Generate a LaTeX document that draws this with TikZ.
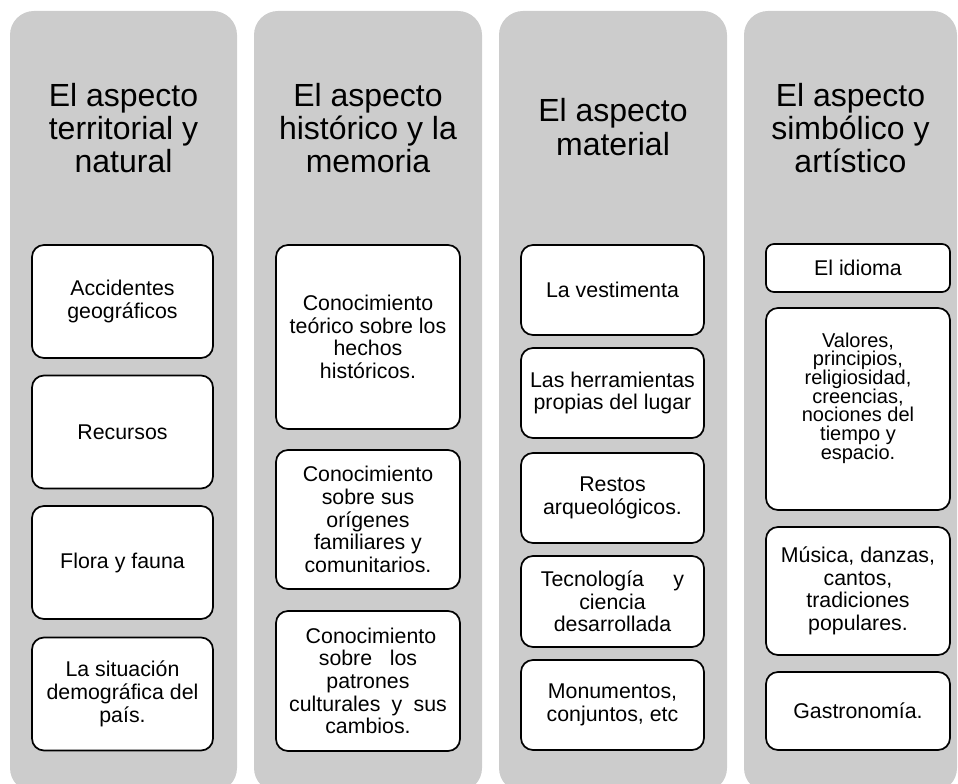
\documentclass[tikz,border=0pt]{standalone}
\usepackage{fontspec}
\setmainfont{Liberation Sans}
\definecolor{colgray}{RGB}{204,204,204}
\begin{document}
\begin{tikzpicture}[x=0.75pt,y=-0.75pt,
  colbox/.style={fill=colgray, draw=none, rounded corners=18pt, inner sep=0pt, minimum height=585.75pt},
  head/.style={align=center, text=black, font=\fontsize{24}{25}\selectfont, inner sep=0pt},
  item/.style={draw=black, line width=1.3pt, fill=white, rounded corners=9pt, align=center, inner sep=2pt, text=black, font=\fontsize{16}{17}\selectfont},
  tight/.style={align=center, inner sep=0pt, text=black, font=\fontsize{15}{14}\selectfont},
]
\useasboundingbox (0,0) rectangle (958,784);
\clip (0,0) rectangle (958,784);
% columns
\node[colbox, minimum width=170.25pt] (col1) at (123.5,401.5) {};
\node[colbox, minimum width=171pt] (col2) at (368,401.5) {};
\node[colbox, minimum width=171pt] (col3) at (613,401.5) {};
\node[colbox, minimum width=159.75pt] (col4) at (850.5,401.5) {};
% headers
\node[head] (h1) at (123.5,128) {El aspecto\\territorial y\\natural};
\node[head] (h2) at (368,128) {El aspecto\\histórico y la\\memoria};
\node[head] (h3) at (613,127) {El aspecto\\material};
\node[head] (h4) at (850.5,128) {El aspecto\\simbólico y\\artístico};
% column 1
\node[item, minimum width=135.75pt, minimum height=84.75pt] (a1) at (122.5,301.5) {Accidentes\\geográficos};
\node[item, minimum width=135.75pt, minimum height=84.75pt] (a2) at (122.5,432) {Recursos};
\node[item, minimum width=135.75pt, minimum height=84.75pt] (a3) at (122.5,562.5) {Flora y fauna};
\node[item, minimum width=135.75pt, minimum height=84.75pt] (a4) at (122.5,694) {La situación\\demográfica del\\país.};
% column 2
\node[item, minimum width=138pt, minimum height=138pt] (b1) at (368,337) {Conocimiento\\teórico sobre los\\hechos\\históricos.};
\node[item, minimum width=138pt, minimum height=104.25pt] (b2) at (368,519.5) {Conocimiento\\sobre sus\\orígenes\\familiares y\\comunitarios.};
\node[item, minimum width=138pt, minimum height=105pt] (b3) at (368,681) {\ Conocimiento\\sobre\hspace{0.55em} los\\patrones\\culturales\hspace{0.25em} y\hspace{0.25em} sus\\cambios.};
% column 3
\node[item, minimum width=137.25pt, minimum height=67.5pt] (c1) at (612.5,290) {La vestimenta};
\node[item, minimum width=137.25pt, minimum height=67.5pt] (c2) at (612.5,393) {Las herramientas\\propias del lugar};
\node[item, minimum width=137.25pt, minimum height=67.5pt] (c3) at (612.5,498) {Restos\\arqueológicos.};
\node[item, minimum width=137.25pt, minimum height=68.25pt] (c4) at (612.5,601.5) {Tecnología\hspace{1.1em} y\\ciencia\\desarrollada};
\node[item, minimum width=137.25pt, minimum height=67.5pt] (c5) at (612.5,705) {Monumentos,\\conjuntos, etc};
% column 4
\node[item, rounded corners=6pt, minimum width=138pt, minimum height=36pt] (d1) at (858,268) {El idioma};
\node[item, minimum width=138pt, minimum height=151.5pt] (d2) at (858,409) {};
\node[tight] (d2t) at (858,398) {Valores,\\principios,\\religiosidad,\\creencias,\\nociones del\\tiempo y\\espacio.};
\node[item, minimum width=138pt, minimum height=96pt] (d3) at (858,591) {Música, danzas,\\cantos,\\tradiciones\\populares.};
\node[item, minimum width=138pt, minimum height=58.5pt] (d4) at (858,711) {Gastronomía.};
\end{tikzpicture}
\end{document}
